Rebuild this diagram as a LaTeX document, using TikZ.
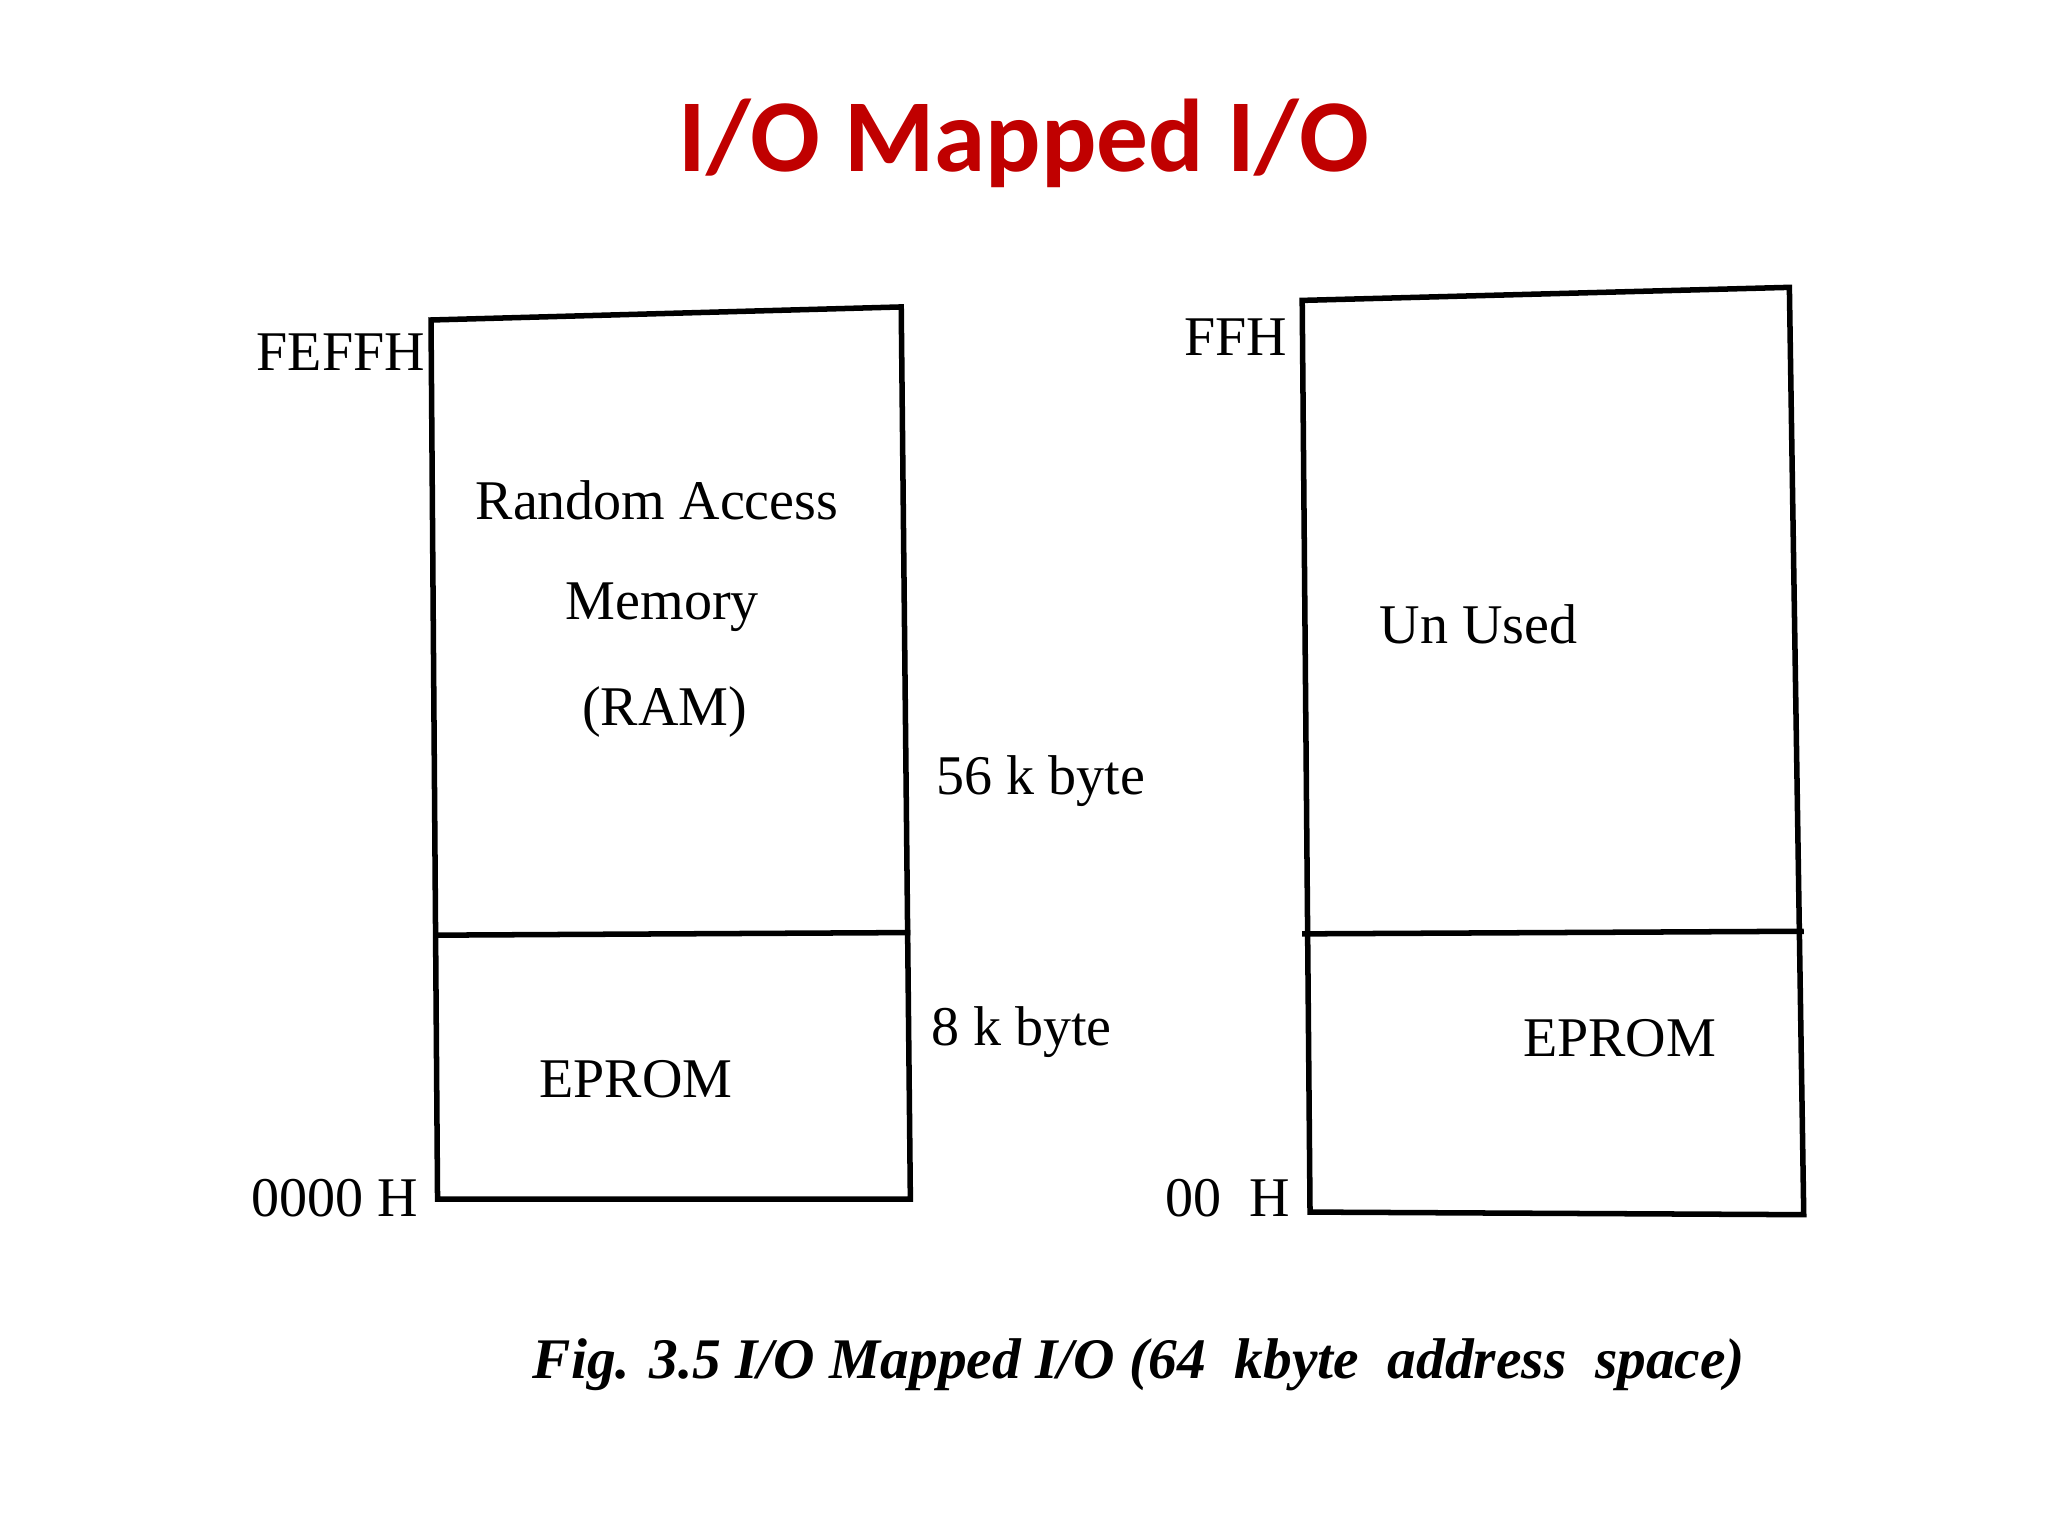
\documentclass[tikz,border=0pt]{standalone}
\usepackage{fontspec}
\setmainfont{Liberation Serif}
\newfontfamily\titlefont{Carlito}
\definecolor{titlered}{RGB}{192,0,0}
\begin{document}
\begin{tikzpicture}[x=0.01cm,y=-0.01cm,
  lbl/.style={font=\fontsize{12.2}{15}\selectfont, inner sep=0pt},
  box/.style={draw, line width=1.2pt}]
\useasboundingbox (0,0) rectangle (1568,1176);
\node[font=\titlefont\bfseries\fontsize{22.5}{27}\selectfont, text=titlered] (title) at (784,110) {I/O Mapped I/O};
% left map
\draw[box] (330,245) -- (690,235) -- (697,918) -- (335,918) -- cycle;
\draw[box] (333,716) -- (697,714);
% right map
\draw[box] (997,230) -- (1370,220) -- (1381,930) -- (1003,928) -- cycle;
\draw[box] (997,715) -- (1381,713);
\node[lbl] (a1) at (261,270) {FEFFH};
\node[lbl] (a2) at (256,917) {0000 H};
\node[lbl] (a3) at (946,258) {FFH};
\node[lbl] (a4) at (940,917) {00\enspace H};
\node[lbl] (s1) at (797,598) {56 k byte};
\node[lbl] (s2) at (782,790) {8 k byte};
\node[lbl] (r1) at (503,383) {Random Access};
\node[lbl] (r2) at (507,465) {Memory};
\node[lbl] (r3) at (509,545) {(RAM)};
\node[lbl] (u) at (1132,478) {Un Used};
\node[lbl] (e1) at (487,826) {EPROM};
\node[lbl] (e2) at (1240,795) {EPROM};
\node[lbl, font=\bfseries\itshape\fontsize{12.5}{15}\selectfont] (cap) at (872,1045) {Fig. 3.5 I/O Mapped I/O (64\enspace kbyte\enspace address\enspace space)};
\end{tikzpicture}
\end{document}
